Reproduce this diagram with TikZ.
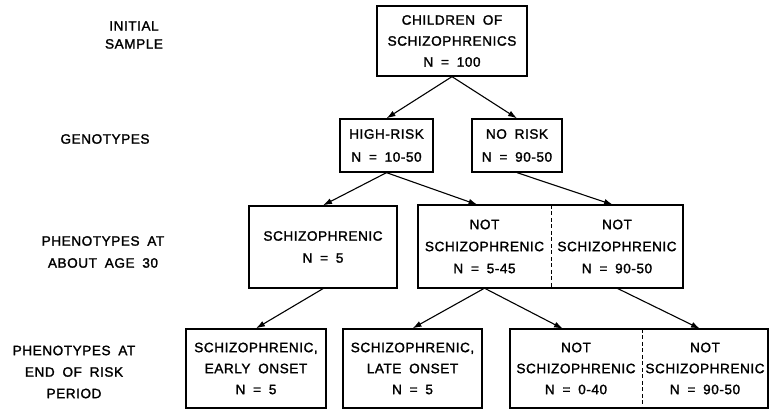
\documentclass[tikz,border=0pt]{standalone}
\usepackage{fontspec}
\setmainfont{Liberation Sans}[LetterSpace=4,WordSpace=1.8,FakeBold=1.6]
\usetikzlibrary{arrows.meta,calc}
\begin{document}
\begin{tikzpicture}[x=1pt,y=-1pt,
  txt/.style={font=\fontsize{13.6}{21}\selectfont, inner sep=0pt, align=center},
  box/.style={txt, draw, line width=1.3pt, minimum width=#1},
  half/.style={txt, minimum width=#1},
  frame/.style={line width=1.6pt},
  arr/.style={line width=1.1pt, -{Latex[length=9pt,width=6pt]}},
  divider/.style={line width=0.9pt, dash pattern=on 4pt off 2.5pt}]
\useasboundingbox (0,0) rectangle (772,411);

% left-hand labels
\node[txt, font=\fontsize{13.6}{18}\selectfont] (lab1) at (134,35) {INITIAL\\SAMPLE};
\node[txt] (lab2) at (105,139) {GENOTYPES};
\node[txt, font=\fontsize{13.6}{22}\selectfont] (lab3) at (103,252) {PHENOTYPES AT\\ABOUT AGE 30};
\node[txt, font=\fontsize{13.6}{21.5}\selectfont] (lab4) at (74,372) {PHENOTYPES AT\\END OF RISK\\PERIOD};

% level 1
\node[box=150pt, minimum height=70pt] (top) at (452,41) {CHILDREN OF\\SCHIZOPHRENICS\\N = 100};

% level 2
\node[box=93pt, minimum height=53pt, font=\fontsize{13.6}{23}\selectfont] (hr) at (386.5,145.5) {HIGH-RISK\\N = 10-50};
\node[box=90pt, minimum height=53pt, font=\fontsize{13.6}{23}\selectfont] (nr) at (517,145.5) {NO RISK\\N = 90-50};

% level 3
\node[box=148pt, minimum height=82pt, font=\fontsize{13.6}{22}\selectfont] (sz) at (323,247) {SCHIZOPHRENIC\\N = 5};
\node[half=133pt, minimum height=83pt, font=\fontsize{13.6}{22}\selectfont] (ns1) at (484.5,246.5) {NOT\\SCHIZOPHRENIC\\N = 5-45};
\node[half=132pt, minimum height=83pt, font=\fontsize{13.6}{22}\selectfont] (ns2) at (617,246.5) {NOT\\SCHIZOPHRENIC\\N = 90-50};
\draw[frame] (ns1.north west) rectangle (ns2.south east);
\draw[divider] (ns1.north east) -- (ns1.south east);

% level 4
\node[box=140pt, minimum height=79pt] (ea) at (256,368.5) {SCHIZOPHRENIC,\\EARLY ONSET\\N = 5};
\node[box=139pt, minimum height=79pt] (la) at (412.5,368.5) {SCHIZOPHRENIC,\\LATE ONSET\\N = 5};
\node[half=132pt, minimum height=79pt] (c1) at (576,368.5) {NOT\\SCHIZOPHRENIC\\N = 0-40};
\node[half=126pt, minimum height=79pt] (c2) at (705,368.5) {NOT\\SCHIZOPHRENIC\\N = 90-50};
\draw[frame] (c1.north west) rectangle (c2.south east);
\draw[divider] (c1.north east) -- (c1.south east);

% connectors
\draw[arr] (top.south) -- (hr.north);
\draw[arr] (top.south) -- (nr.north);
\draw[arr] (hr.south) -- (sz.north);
\draw[arr] (hr.south) -- ($(ns1.north)+(-7,0)$);
\draw[arr] (nr.south) -- ($(ns2.north)+(-4,0)$);
\draw[arr] (sz.south) -- (ea.north);
\draw[arr] (ns1.south) -- (la.north);
\draw[arr] (ns1.south) -- ($(c1.north)+(-13,0)$);
\draw[arr] (ns2.south) -- ($(c2.north)+(-5,0)$);
\end{tikzpicture}
\end{document}
